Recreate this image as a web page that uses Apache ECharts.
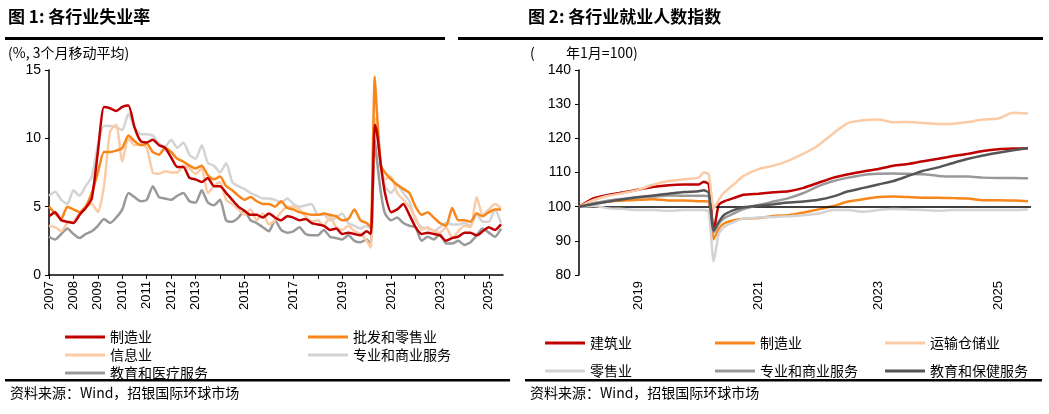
<!DOCTYPE html>
<html><head><meta charset="utf-8">
<script src="https://cdn.jsdelivr.net/npm/echarts@6/dist/echarts.min.js"></script>
<style>html,body{margin:0;padding:0;background:#fff}#c{width:1049px;height:414px}</style>
</head><body><div id="c"></div>
<script>
// ---------- Left chart: unemployment rate ----------
const leftDates = [
 '2007-01','2007-04','2007-07','2007-10','2008-01','2008-04','2008-07','2008-10',
 '2009-01','2009-04','2009-07','2009-10','2010-01','2010-04','2010-07','2010-10',
 '2011-01','2011-04','2011-07','2011-10','2012-01','2012-04','2012-07','2012-10',
 '2013-01','2013-04','2013-07','2013-10','2014-01','2014-04','2014-07','2014-10',
 '2015-01','2015-04','2015-07','2015-10','2016-01','2016-04','2016-07','2016-10',
 '2017-01','2017-04','2017-07','2017-10','2018-01','2018-04','2018-07','2018-10',
 '2019-01','2019-04','2019-07','2019-10',
 '2020-01','2020-03','2020-04','2020-05','2020-06','2020-08','2020-10',
 '2021-01','2021-04','2021-07','2021-10','2022-01','2022-04','2022-07','2022-10',
 '2023-01','2023-04','2023-07','2023-10','2024-01','2024-04','2024-07','2024-10',
 '2025-01','2025-04','2025-07'];
const leftNames = ['制造业','批发和零售业','信息业','专业和商业服务','教育和医疗服务'];
const uManufacturing = [4.3,4.6,4.0,3.9,3.8,4.4,4.9,5.6,9.0,12.3,12.2,12.0,12.3,12.4,10.8,9.8,9.7,9.9,9.5,9.3,8.6,7.9,7.9,7.1,7.0,6.8,7.1,6.5,6.5,6.0,5.5,5.0,4.7,4.4,4.4,4.2,4.5,4.2,4.0,4.3,4.2,4.0,4.1,3.8,3.7,3.6,3.3,3.4,3.0,3.1,3.0,2.9,3.2,3.0,6.5,11.0,10.5,8.0,6.0,4.6,4.8,5.2,4.4,3.5,3.0,3.1,3.0,2.9,2.5,2.7,2.8,3.1,3.1,2.9,3.2,3.5,3.3,3.7];
const uTrade = [5.0,4.5,4.1,5.0,4.8,4.6,5.0,6.0,7.5,9.0,9.0,9.1,9.3,10.2,9.8,9.5,9.6,9.0,8.8,9.3,9.0,8.5,8.3,8.0,7.8,8.0,7.3,7.0,7.2,6.5,6.2,5.8,5.5,5.7,5.4,5.2,5.2,5.0,5.4,4.9,4.8,4.6,4.5,4.4,4.4,4.5,4.4,4.3,4.0,4.1,4.8,4.0,3.8,3.5,9.0,14.5,12.0,8.0,7.5,7.0,6.6,6.3,6.0,5.0,4.4,4.6,4.2,3.8,3.6,4.9,4.0,4.0,3.9,4.5,4.3,4.6,4.8,4.8];
const uInformation = [3.6,3.5,3.2,3.8,3.9,4.5,5.0,5.2,4.6,6.5,10.5,11.0,8.3,10.0,9.5,9.6,9.3,7.5,7.4,7.6,7.5,7.5,8.0,7.8,7.4,7.8,6.0,6.5,6.8,5.5,5.2,4.8,4.4,4.8,4.0,4.5,3.7,4.0,4.6,5.0,5.0,4.8,4.3,3.9,4.0,3.6,4.3,3.5,3.3,3.6,3.2,3.0,2.5,2.0,6.0,11.5,11.0,8.0,7.0,7.2,6.0,5.5,5.0,4.2,3.3,3.5,3.2,3.1,3.5,2.7,3.2,3.6,3.5,5.7,4.4,4.8,5.2,4.9];
const uProfessional = [5.8,6.1,5.5,5.2,6.2,5.8,6.5,7.2,9.5,10.9,10.9,10.8,10.6,11.8,10.8,10.3,10.3,10.2,9.6,9.4,9.9,9.3,9.7,8.8,8.5,9.5,8.2,8.0,7.5,8.2,6.8,6.5,6.3,6.0,5.8,5.6,5.6,5.5,5.3,5.6,5.2,5.0,5.1,5.2,4.4,4.4,4.0,4.2,4.5,3.8,3.6,3.4,3.6,3.4,7.0,11.5,10.5,8.0,6.5,6.0,6.6,6.0,5.4,4.0,3.5,3.4,3.2,3.5,3.8,3.7,3.7,3.8,3.6,4.5,3.9,3.9,4.8,3.8];
const uEduHealth = [2.8,2.6,3.0,3.4,3.0,2.7,3.0,3.2,3.6,4.1,3.8,4.2,4.8,6.0,5.7,5.4,5.5,6.5,5.7,5.6,5.5,5.8,6.0,5.4,5.3,6.2,5.3,5.1,5.5,4.0,3.9,4.2,4.7,4.0,3.8,3.5,3.2,4.0,3.3,3.1,3.2,3.5,3.0,2.9,2.9,3.3,2.8,2.7,2.6,2.9,2.5,2.4,2.6,2.3,6.0,9.9,8.5,6.0,4.5,4.0,4.2,3.8,3.6,3.5,2.5,2.8,2.6,3.0,2.3,2.3,2.5,2.2,2.4,2.9,3.4,3.1,2.8,3.4];
const leftYTicks = [0,5,10,15];
const leftYearLabels = [2007,2008,2009,2010,2011,2012,2013,2015,2017,2019,2021,2023,2025];

// ---------- Right chart: employment index ----------
const rightDates = ['2018-01','2018-04','2018-07','2018-10','2019-01','2019-04','2019-07','2019-10',
 '2020-01','2020-02','2020-03','2020-04','2020-05','2020-06','2020-08','2020-10',
 '2021-01','2021-04','2021-07','2021-10','2022-01','2022-04','2022-07','2022-10',
 '2023-01','2023-04','2023-07','2023-10','2024-01','2024-04','2024-07','2024-10',
 '2025-01','2025-04','2025-07'];
const rightNames = ['建筑业','制造业 ','运输仓储业','零售业','专业和商业服务 ','教育和保健服务'];
const eConstruction = [100,102.5,103.5,104.2,105,105.8,106.3,106.5,106.5,107.3,106.5,93,100.5,101.5,102.5,103.5,103.8,104.2,104.5,105.5,107,108.5,109.5,110.3,111,112,112.5,113.3,114,114.8,115.5,116.3,116.8,117,117.1];
const eManufacturing = [100,101,101.5,101.8,102,102.2,101.8,101.8,101.6,101.6,101.5,90.5,93.5,95,96,96.5,96.7,97.3,97.5,98.3,99.2,100.2,101.5,102.2,102.8,103,102.8,102.6,102.6,102.5,102.4,101.9,101.9,101.8,101.6];
const eTransport = [100,102,103.2,104,105,106.5,107.5,108,108.5,110,109.5,99.5,102,104,106.5,109,111,112,113.5,115.5,118,121.5,124.5,125.3,125.5,124.7,124.8,124.5,124.2,124.3,124.8,125.5,125.8,127.5,127.3];
const eRetail = [100,100.2,99.5,99.3,99,99,98.8,99,99,99,98.5,84,92,94,95.5,96.5,96.8,97,97.2,97.5,98,99,99,98.5,99,99.3,99.2,99,98.8,99,99,99,99,99,99.2];
const eProfessional = [100,101,101.8,102.3,102.7,103,103.3,103.2,103.2,103.2,103,92.5,95,96.5,98,99.3,100.5,101.5,102.5,104,106,107.5,108.5,109.3,109.6,109.7,109.6,109.5,109,108.8,108.8,108.5,108.4,108.4,108.3];
const eEduHealth = [100,100.8,101.5,102.2,102.8,103.3,103.8,104.3,104.5,104.8,104,93,95.5,97.5,99,99.8,100.3,100.7,101.2,101.5,102,103,104.5,105.5,106.5,107.5,109,110.5,111.5,112.8,114,115,115.8,116.5,117.2];
const rightYTicks = [80,90,100,110,120,130,140];
const rightYearLabels = [2019,2021,2023,2025];

const leftColors = ['#C00000','#F7861B','#FBCBA6','#D3D3D3','#999999'];
const rightColors = ['#C00000','#F7861B','#FBCBA6','#D3D3D3','#999999','#555555'];

function toYear(d){const [y,m]=d.split('-').map(Number);return y+(m-1)/12;}
function zip(dates,vals){return vals.map((v,i)=>[toYear(dates[i]),v]);}

const FONT = 'Liberation Sans, Arial, sans-serif';
const CJK = '"Noto Sans CJK SC", sans-serif';

function xAxisDef(idx,min,max,labels){
  return {type:'value',gridIndex:idx,min:min,max:max,interval:1,
    axisLine:{show:idx===0,onZero:false,lineStyle:{color:'#000',width:1.5}},
    axisTick:{show:idx===0,length:4,lineStyle:{color:'#000'}},
    splitLine:{show:false},
    axisLabel:{rotate:90,color:'#000',fontSize:13,fontFamily:FONT,margin:6,showMaxLabel:false,
      formatter:v=>labels.includes(Math.round(v*100)/100)?String(v):''}};
}
function yAxisDef(idx,min,max,iv){
  return {type:'value',gridIndex:idx,min:min,max:max,interval:iv,
    axisLine:{show:true,lineStyle:{color:'#000',width:1.5}},
    axisTick:{show:true,length:4,inside:false,lineStyle:{color:'#000'}},
    splitLine:{show:false},
    axisLabel:{color:'#000',fontSize:14,fontFamily:FONT,margin:8}};
}

const leftData=[uManufacturing,uTrade,uInformation,uProfessional,uEduHealth];
const rightData=[eConstruction,eManufacturing,eTransport,eRetail,eProfessional,eEduHealth];
const series=[];
leftData.forEach((arr,i)=>series.push({name:leftNames[i],type:'line',xAxisIndex:0,yAxisIndex:0,
  data:zip(leftDates,arr),showSymbol:false,smooth:0.2,z:10-i,
  lineStyle:{width:2.5,color:leftColors[i]},itemStyle:{color:leftColors[i]}}));
rightData.forEach((arr,i)=>series.push({name:rightNames[i],type:'line',xAxisIndex:1,yAxisIndex:1,
  data:zip(rightDates,arr),showSymbol:false,smooth:0.2,z:3+i,
  lineStyle:{width:2.5,color:rightColors[i]},itemStyle:{color:rightColors[i]},
  markLine:i===0?{silent:true,symbol:'none',label:{show:false},lineStyle:{color:'#000',type:'solid',width:1.5},data:[{yAxis:100}]}:undefined}));

const legends=[];
const leftPos=[[60,333],[303,333],[60,351],[303,351],[60,369]];
leftNames.forEach((n,i)=>legends.push({data:[n],left:leftPos[i][0],top:leftPos[i][1]-8,
  icon:'rect',itemWidth:40,itemHeight:3,selectedMode:false,textStyle:{fontSize:14,fontFamily:CJK,color:'#000'}}));
const rightPos=[[540,339],[710,339],[880,339],[540,367],[710,367],[880,367]];
rightNames.forEach((n,i)=>legends.push({data:[n],left:rightPos[i][0],top:rightPos[i][1]-8,
  icon:'rect',itemWidth:40,itemHeight:3,selectedMode:false,textStyle:{fontSize:14,fontFamily:CJK,color:'#000'}}));

const chart=echarts.init(document.getElementById('c'));
chart.setOption({
  animation:false,
  grid:[{left:49,right:546,top:70,bottom:139},{left:579,right:18,top:70,bottom:139}],
  xAxis:[xAxisDef(0,2007,2025.58,leftYearLabels),xAxisDef(1,2018,2025.55,rightYearLabels)],
  yAxis:[yAxisDef(0,0,15,5),yAxisDef(1,80,140,10)],
  legend:legends,
  series:series,
  graphic:[
    {type:'text',left:8,top:8,style:{text:'图 1: 各行业失业率',font:'bold 17px '+CJK,fill:'#000'}},
    {type:'text',left:528,top:8,style:{text:'图 2: 各行业就业人数指数',font:'bold 17px '+CJK,fill:'#000'}},
    {type:'rect',shape:{x:5,y:37,width:440,height:3},style:{fill:'#000'}},
    {type:'rect',shape:{x:458,y:37,width:585,height:3},style:{fill:'#000'}},
    {type:'text',left:8,top:46,style:{text:'(%, 3个月移动平均)',font:'14px '+CJK,fill:'#000'}},
    {type:'text',left:530,top:46,style:{text:'(          年1月=100)',font:'14px '+CJK,fill:'#000'}},
    {type:'rect',shape:{x:5,y:379,width:505,height:2.5},style:{fill:'#000'}},
    {type:'rect',shape:{x:525,y:379,width:517,height:2.5},style:{fill:'#000'}},
    {type:'text',left:10,top:386,style:{text:'资料来源：Wind，招银国际环球市场',font:'14px '+CJK,fill:'#000'}},
    {type:'text',left:530,top:386,style:{text:'资料来源：Wind，招银国际环球市场',font:'14px '+CJK,fill:'#000'}}
  ]
});
</script></body></html>
